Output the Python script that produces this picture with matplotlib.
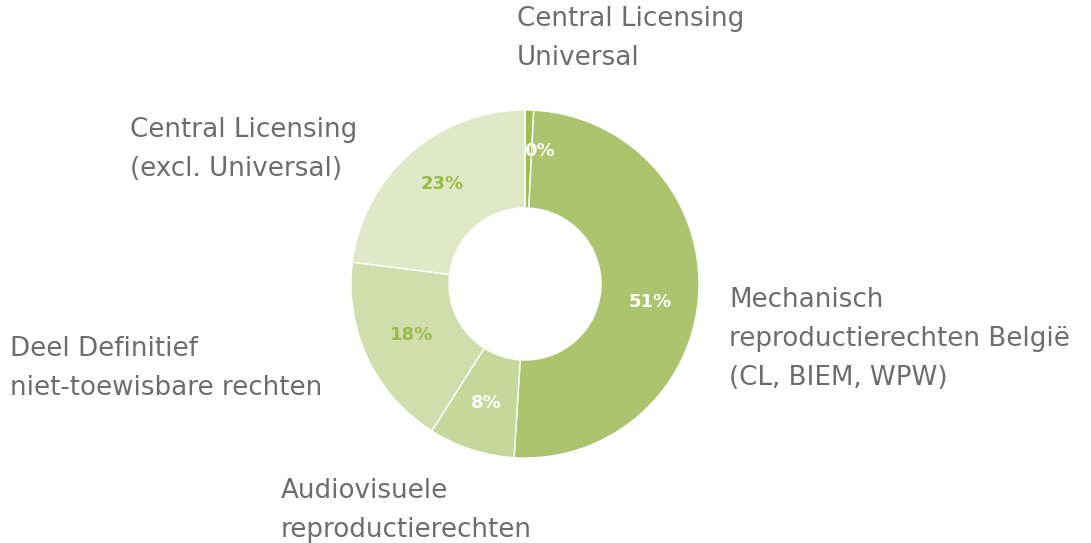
import numpy as np
import matplotlib.pyplot as plt

# slice data, clockwise from 12 o'clock
names = ['Central Licensing\nUniversal',
         'Mechanisch\nreproductierechten België\n(CL, BIEM, WPW)',
         'Audiovisuele\nreproductierechten',
         'Deel Definitief\nniet-toewisbare rechten',
         'Central Licensing\n(excl. Universal)']
shares = [0.8, 50.2, 8.0, 18.0, 23.0]
pct_labels = ['0%', '51%', '8%', '18%', '23%']

colors = ['#9fbf52', '#adc46f', '#c6d79c', '#d1ddac', '#e0e8c7']
pct_colors = ['white', 'white', 'white', '#97bb46', '#97bb46']

plt.rcParams['font.family'] = ['DejaVu Sans']

W, H = 1091, 543
fig = plt.figure(figsize=(W / 100, H / 100), dpi=100)
ax = fig.add_axes([0, 0, 1, 1])

cx, cy = 525, H - 284
r_out, r_in = 174, 76

wedges, _ = ax.pie(shares, colors=colors, startangle=90, counterclock=False,
                   center=(cx, cy), radius=r_out,
                   wedgeprops=dict(width=r_out - r_in, edgecolor='white', linewidth=1))

# pie() resets the limits, so set them afterwards
ax.set_xlim(0, W)
ax.set_ylim(0, H)
ax.set_aspect('equal')
ax.axis('off')

# percentage labels in the middle of the ring (small nudges in px)
r_mid = (r_out + r_in) / 2
nudge = [(11, 8), (0, -11), (0, 0), (0, 2), (0, 6)]
for w, txt, c, (dx, dy) in zip(wedges, pct_labels, pct_colors, nudge):
    ang = np.deg2rad((w.theta1 + w.theta2) / 2)
    ax.text(cx + r_mid * np.cos(ang) + dx, cy + r_mid * np.sin(ang) + dy, txt,
            ha='center', va='center', fontsize=13, fontweight='bold', color=c)

# category labels (left/top anchor)
label_pos = [(517, 6), (729, 287), (281, 478), (10, 336), (130, 117)]
for (x, y), txt in zip(label_pos, names):
    ax.text(x, H - y, txt, ha='left', va='top', fontsize=18.8,
            color='#6d6d6d', linespacing=1.66)

fig.savefig('out.png', dpi=100)
